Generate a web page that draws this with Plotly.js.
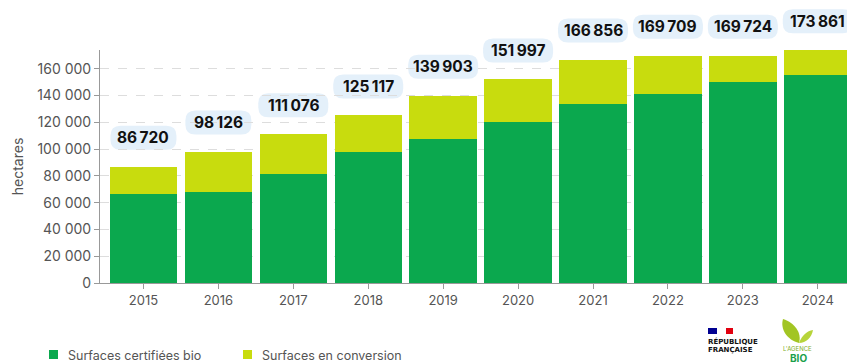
<!DOCTYPE html>
<html>
<head>
<meta charset="utf-8">
<script src="https://cdn.plot.ly/plotly-3.0.1.min.js"></script>
<style>html,body{margin:0;padding:0;background:#fff;}#chart{width:847px;height:363px;}</style>
</head>
<body>
<div id="chart"></div>
<script>
// Data
const years = ["2015","2016","2017","2018","2019","2020","2021","2022","2023","2024"];
const certified = [66300, 68300, 81500, 97700, 107700, 120600, 133600, 141300, 149800, 155500];
const conversion = [20420, 29826, 29576, 27417, 32203, 31397, 33256, 28409, 19924, 18361];
const totals = [86720, 98126, 111076, 125117, 139903, 151997, 166856, 169709, 169724, 173861];
const seriesNames = ["Surfaces certifiées bio", "Surfaces en conversion"];

const YMAX = 174000;
const C_DARK = "#0ba84e", C_LIGHT = "#c8dc0e", GREY = "#555555";
const FONT = "Inter, 'Open Sans', sans-serif";

// layout geometry helpers (pixel -> paper) for decorations
const PL = 100, PT = 50, PW = 747, PH = 233;
const px = p => (p - PL) / PW;
const py = p => (PT + PH - p) / PH;

function fmt(v, sep){ return String(v).replace(/\B(?=(\d{3})+(?!\d))/g, sep); }

const traces = [
  {type:"bar", x: years, y: certified, name: seriesNames[0], marker:{color:C_DARK}, hoverinfo:"skip"},
  {type:"bar", x: years, y: conversion, name: seriesNames[1], marker:{color:C_LIGHT}, hoverinfo:"skip"}
];

const shapes = [];
const annotations = [];

// bubbles and total labels
totals.forEach((t, i) => {
  const s = fmt(t, "\u2009");
  const hw = String(t).length > 5 ? 35 : 33, hh = 12, c = 29, r = 10;
  const path = `M ${-hw+r},${c-hh} L ${hw-r},${c-hh} Q ${hw},${c-hh} ${hw},${c-hh+r} L ${hw},${c+hh-r} Q ${hw},${c+hh} ${hw-r},${c+hh} L ${-hw+r},${c+hh} Q ${-hw},${c+hh} ${-hw},${c+hh-r} L ${-hw},${c-hh+r} Q ${-hw},${c-hh} ${-hw+r},${c-hh} Z`;
  shapes.push({type:"path", xref:"x", yref:"paper", xsizemode:"pixel", ysizemode:"pixel",
    xanchor:i, yanchor:t / YMAX, path:path, fillcolor:"#e4f0fa", line:{width:0}, layer:"below"});
  annotations.push({x: i, y: t / YMAX, xref:"x", yref:"paper", text:"<b>"+s+"</b>", showarrow:false,
    yshift:29, xanchor:"center", yanchor:"middle", font:{family:FONT, size:15.5, color:"#111111"}});
});

// manual legend
const legendItems = [{x0:49, color:C_DARK, text:seriesNames[0]}, {x0:243, color:C_LIGHT, text:seriesNames[1]}];
legendItems.forEach(it => {
  shapes.push({type:"rect", xref:"paper", yref:"paper", x0:px(it.x0), x1:px(it.x0+9), y0:py(350), y1:py(359),
    fillcolor:it.color, line:{width:0}});
  annotations.push({xref:"paper", yref:"paper", x:px(it.x0+17), y:py(355), xanchor:"left", yanchor:"middle",
    text:it.text, showarrow:false, font:{family:FONT, size:12.5, color:GREY}});
});

// République Française logo
shapes.push({type:"rect", xref:"paper", yref:"paper", x0:px(708), x1:px(717), y0:py(334), y1:py(328), fillcolor:"#000091", line:{width:0}});
shapes.push({type:"rect", xref:"paper", yref:"paper", x0:px(726), x1:px(733), y0:py(334), y1:py(328), fillcolor:"#e1000f", line:{width:0}});
annotations.push({xref:"paper", yref:"paper", x:px(706), y:py(341), xanchor:"left", yanchor:"middle", text:"<b>RÉPUBLIQUE</b>", showarrow:false, font:{family:"'DejaVu Sans', sans-serif", size:7, color:"#111"}});
annotations.push({xref:"paper", yref:"paper", x:px(706), y:py(350), xanchor:"left", yanchor:"middle", text:"<b>FRANÇAISE</b>", showarrow:false, font:{family:"'DejaVu Sans', sans-serif", size:7, color:"#111"}});

// Agence BIO logo
shapes.push({type:"path", xref:"paper", yref:"paper", xsizemode:"pixel", ysizemode:"pixel", xanchor:px(799), yanchor:py(343),
  path:"M 0,0 C -12,3 -19,14 -16,24 C -4,20 3,10 0,0 Z", fillcolor:"#a2c523", line:{width:0}});
shapes.push({type:"path", xref:"paper", yref:"paper", xsizemode:"pixel", ysizemode:"pixel", xanchor:px(799), yanchor:py(343),
  path:"M 0,0 C 3,8 8,12 14,13 C 13,6 7,0 0,0 Z", fillcolor:"#b7d43a", line:{width:0}});
annotations.push({xref:"paper", yref:"paper", x:px(797), y:py(348), xanchor:"center", yanchor:"middle", text:"L'AGENCE", showarrow:false, font:{family:FONT, size:6, color:"#7fae2a"}});
annotations.push({xref:"paper", yref:"paper", x:px(798), y:py(358), xanchor:"center", yanchor:"middle", text:"<b>BIO</b>", showarrow:false, font:{family:FONT, size:10, color:"#1aa04a"}});

const layout = {
  width:847, height:363,
  margin:{l:PL, r:0, t:PT, b:80, pad:0},
  paper_bgcolor:"#fff", plot_bgcolor:"#fff",
  barmode:"stack", bargap:0.1,
  showlegend:false,
  separators:", ",
  font:{family:FONT, color:GREY},
  xaxis:{type:"category", range:[-0.58, 9.39], showline:true, linecolor:"#999", linewidth:1,
    ticks:"outside", ticklen:5, tickcolor:"#999", tickfont:{size:13, color:GREY}, showgrid:false, fixedrange:true},
  yaxis:{range:[0, YMAX], dtick:20000, tickformat:",.0f", showline:true, linecolor:"#999", linewidth:1,
    ticks:"outside", ticklen:5, tickcolor:"#999", tickfont:{size:14, color:GREY},
    showgrid:true, gridcolor:"#dddddd", griddash:"dash", zeroline:false,
    title:{text:"hectares", font:{size:14, color:GREY}, standoff:10}, fixedrange:true},
  shapes: shapes,
  annotations: annotations
};

Plotly.newPlot("chart", traces, layout, {displayModeBar:false, staticPlot:true});
</script>
</body>
</html>
